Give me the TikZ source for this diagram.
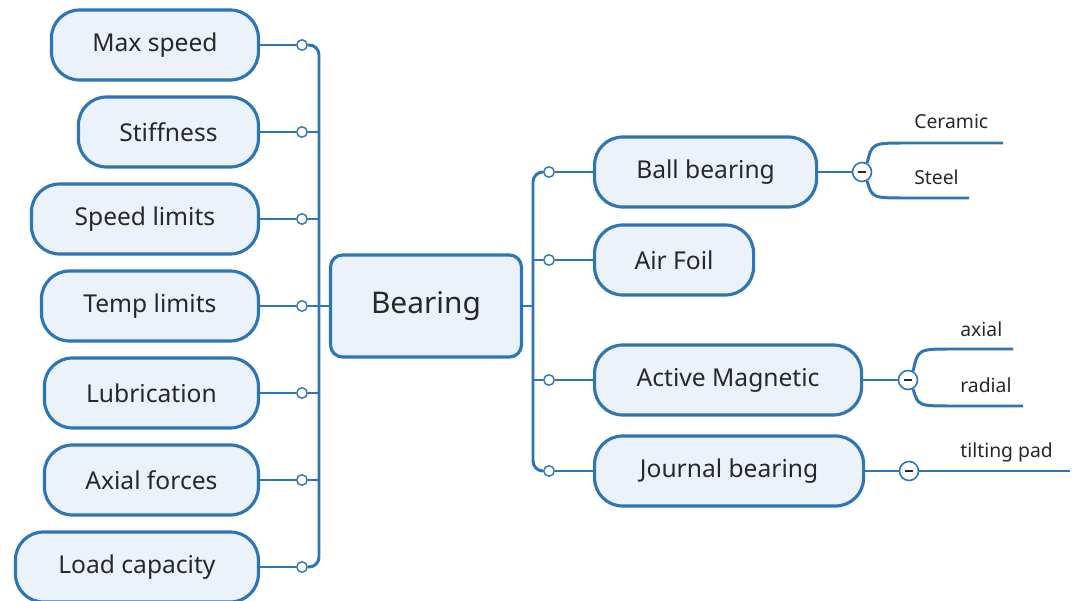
\documentclass[tikz,border=0pt]{standalone}
\usepackage{fontspec}
\setmainfont{Noto Sans}
\usetikzlibrary{calc}

\definecolor{mapblue}{RGB}{46,117,182}
\definecolor{mapfill}{RGB}{236,242,250}
\definecolor{maptext}{RGB}{40,40,40}

\begin{document}
\begin{tikzpicture}[x=0.02cm, y=-0.02cm,
    topic/.style={draw=mapblue, line width=1.8pt, fill=mapfill, rounded corners=0.56cm,
        minimum height=1.4cm, inner sep=0pt, text=maptext, font=\fontsize{14}{16}\selectfont},
    central/.style={draw=mapblue, line width=1.8pt, fill=mapfill, rounded corners=0.24cm,
        minimum width=3.82cm, minimum height=2.04cm, text=maptext, font=\fontsize{17}{20}\selectfont},
    link/.style={mapblue, line width=1.7pt},
    dot/.style={circle, draw=mapblue, line width=0.8pt, fill=white, minimum size=0.21cm, inner sep=0pt},
    fold/.style={circle, draw=mapblue, line width=0.9pt, fill=white, minimum size=0.38cm, inner sep=0pt,
        path picture={\draw[maptext, line width=1pt]
            ([xshift=-2.5pt]path picture bounding box.center) -- ([xshift=2.5pt]path picture bounding box.center);}},
    leaf/.style={anchor=base west, inner sep=0pt, text=maptext, font=\fontsize{11}{13}\selectfont}
]
\useasboundingbox (0,0) rectangle (1079,601);

% Central topic and its two buses
\node[central] (bearing) at (426,306) {Bearing};
\coordinate (busL) at (319,306);
\coordinate (busR) at (533,306);
\draw[link] (busL) -- (bearing.west);
\draw[link] (bearing.east) -- (busR);

% Left side: properties
\foreach \name/\txt/\y/\w in {maxspeed/Max speed/45/207, stiffness/Stiffness/132/180,
    speedlimits/Speed limits/219/227, templimits/Temp limits/306/217,
    lubrication/Lubrication/393/214, axialforces/Axial forces/480/214,
    loadcapacity/Load capacity/567/243} {
    \node[topic, anchor=east, minimum width=\w*0.02cm] (\name) at (260,\y) {\txt};
    \node[dot] (d\name) at (302,\y) {};
    \draw[link] (\name.east) -- (d\name);
}
\foreach \name in {stiffness,speedlimits,templimits,lubrication,axialforces}
    \draw[link] (d\name.east) -- (d\name.east -| busL);
\draw[link, rounded corners=0.2cm] (dmaxspeed.east) -| (busL) |- (dloadcapacity.east);

% Right side: bearing types
\foreach \name/\txt/\y/\w in {ballbearing/Ball bearing/172/222, airfoil/Air Foil/260/159,
    activemagnetic/Active Magnetic/380/267, journalbearing/Journal bearing/471/269} {
    \node[topic, anchor=west, minimum width=\w*0.02cm] (\name) at (593,\y) {\txt};
    \node[dot] (d\name) at (549,\y) {};
    \draw[link] (d\name) -- (\name.west);
}
\foreach \name in {airfoil,activemagnetic}
    \draw[link] (d\name.west -| busR) -- (d\name.west);
\draw[link, rounded corners=0.2cm] (dballbearing.west) -| (busR) |- (djournalbearing.west);

% Sub-branches with fold markers
\node[fold] (mball) at (862,172) {};
\node[fold] (mmagnetic) at (908,380) {};
\node[fold] (mjournal) at (909,471) {};
\draw[link] (ballbearing.east) -- (mball);
\draw[link] (activemagnetic.east) -- (mmagnetic);
\draw[link] (journalbearing.east) -- (mjournal);

% Leaves
\node[leaf] (ceramic) at (914,129) {Ceramic};
\node[leaf] (steel) at (914,185) {Steel};
\node[leaf] (axial) at (960,337) {axial};
\node[leaf] (radial) at (960,393) {radial};
\node[leaf] (tilting) at (960,457) {tilting pad};
\coordinate (ceramicend) at (1003,143);
\coordinate (steelend) at (969,198);
\coordinate (axialend) at (1013,349);
\coordinate (radialend) at (1023,406);
\coordinate (tiltingend) at (1070,471);

\draw[link] (mball.60) .. controls (872,143) .. (907,143) -- (ceramicend);
\draw[link] (mball.-60) .. controls (872,198) .. (907,198) -- (steelend);
\draw[link] (mmagnetic.60) .. controls (918,349) .. (953,349) -- (axialend);
\draw[link] (mmagnetic.-60) .. controls (918,406) .. (953,406) -- (radialend);
\draw[link] (mjournal.east) -- (tiltingend);

\end{tikzpicture}
\end{document}
